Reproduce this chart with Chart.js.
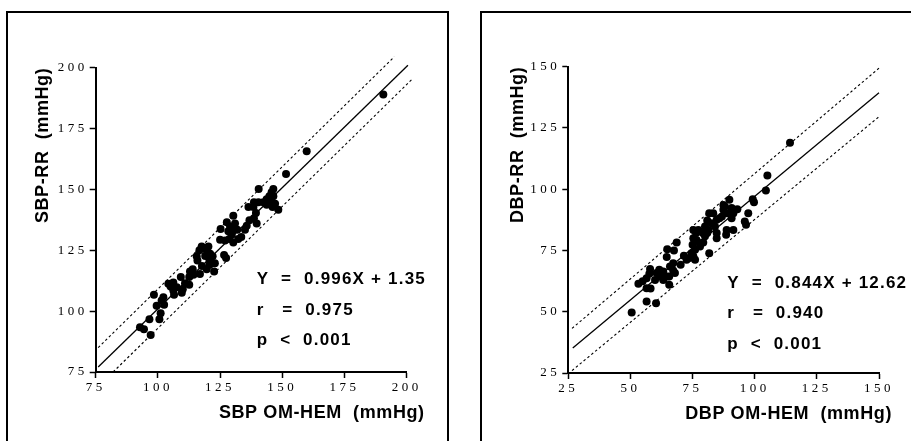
<!DOCTYPE html>
<html>
<head>
<meta charset="utf-8">
<script src="https://cdn.jsdelivr.net/npm/chart.js@4.4.1/dist/chart.umd.min.js"></script>
<style>
  body { margin: 0; background: #fff; width: 911px; height: 441px; overflow: hidden; position: relative; }
  .box { position: absolute; border: 2px solid #000; box-sizing: border-box; }
  canvas { position: absolute; top: 0; }
</style>
</head>
<body>
<div class="box" style="left:6px; top:11px; width:443px; height:460px;"></div>
<div class="box" style="left:480px; top:11px; width:460px; height:460px;"></div>
<canvas id="sbp" width="460" height="441" style="left:0; width:460px; height:441px;"></canvas>
<canvas id="dbp" width="451" height="441" style="left:460px; width:451px; height:441px;"></canvas>
<script>
// SBP panel data (OM-HEM vs RR, mmHg)
var sbpX = [190.6, 159.8, 151.5, 140.5, 146.4, 145.7, 144.8, 143.7, 146.4, 145.4,
            147.1, 148.4, 143.7, 142.4, 140.4, 138.6, 136.4, 138.4, 146.1, 139.4,
            138.6, 139.7, 135.7, 135.0, 130.3, 127.7, 129.0, 131.0, 130.3, 131.9,
            128.3, 129.7, 132.3, 130.3, 128.7, 125.2, 125.0, 126.6, 127.4, 122.6,
            120.3, 119.6, 121.0, 119.0, 120.7, 122.0, 117.6, 116.7, 119.6, 115.6,
            115.9, 116.9, 114.0, 112.9, 114.3, 112.6, 109.2, 110.9, 112.6, 107.6,
            106.2, 106.5, 109.6, 110.0, 104.2, 105.1, 106.2, 102.2, 101.5, 102.5,
            98.4, 99.5, 101.1, 100.6, 96.6, 92.8, 94.4, 97.1, 136.8, 122.9,
            117.7, 120.7, 133.5, 127.0];
var sbpY = [189.0, 165.7, 156.3, 150.2, 150.2, 148.8, 147.2, 146.0, 147.2, 145.1,
            144.1, 141.7, 143.7, 144.7, 144.7, 144.7, 142.8, 142.8, 142.8, 140.3,
            138.2, 136.0, 135.1, 133.4, 139.2, 136.5, 134.8, 136.0, 133.4, 133.4,
            132.8, 131.4, 129.6, 128.2, 129.6, 133.7, 129.3, 123.1, 121.8, 116.3,
            126.6, 125.0, 123.6, 122.7, 121.1, 122.5, 126.6, 125.0, 117.2, 122.5,
            120.8, 115.3, 117.2, 116.3, 114.9, 114.0, 114.0, 111.5, 110.8, 109.8,
            108.5, 106.7, 107.6, 109.0, 111.2, 110.1, 111.8, 105.7, 104.4, 102.6,
            106.7, 102.2, 99.1, 96.7, 96.7, 93.4, 92.6, 90.2, 137.3, 119.7,
            118.5, 119.0, 130.5, 129.0];
var sbpFitX = [76, 200.5];
var sbpFitY = [77.05, 201.0];
var sbpUpperX = [76, 195];
var sbpUpperY = [85, 204.5];
var sbpLowerX = [82, 202.5];
var sbpLowerY = [75, 195.6];

// DBP panel data
var dbpX = [114.2, 105.1, 104.5, 99.2, 99.7, 97.4, 96.0, 96.5, 93.0, 89.8,
            90.7, 91.4, 90.7, 91.4, 88.7, 88.5, 87.4, 86.8, 88.7, 85.8,
            88.0, 87.4, 81.7, 80.9, 82.6, 84.0, 84.7, 84.7, 80.0, 79.1,
            81.4, 80.9, 77.3, 76.4, 76.6, 75.3, 78.0, 79.3, 75.0, 76.0,
            74.6, 73.7, 72.6, 75.3, 81.7, 75.3, 68.6, 67.5, 64.8, 64.6,
            70.2, 67.2, 65.9, 67.2, 67.9, 64.6, 63.2, 61.6, 60.5, 61.9,
            59.9, 57.9, 57.6, 56.5, 54.9, 53.2, 56.5, 58.1, 65.6, 56.5,
            60.3, 50.5, 65.6, 63.2, 71.5, 83.3, 84.7, 80.0, 78.0, 76.0];
var dbpY = [119.0, 105.6, 99.5, 95.9, 94.7, 90.2, 86.8, 85.5, 91.8, 95.7,
            92.3, 90.2, 88.2, 83.4, 83.4, 81.4, 91.6, 88.9, 90.2, 88.2,
            92.9, 93.6, 90.2, 87.2, 86.1, 84.8, 82.1, 80.0, 84.8, 82.1,
            83.4, 82.1, 83.4, 82.1, 79.3, 80.0, 78.0, 78.3, 77.3, 75.3,
            73.9, 71.9, 71.2, 72.6, 73.9, 83.4, 78.3, 75.0, 75.5, 72.3,
            69.2, 69.8, 68.5, 66.8, 65.8, 64.4, 66.4, 67.1, 65.8, 64.4,
            63.0, 67.4, 65.5, 63.7, 62.4, 61.4, 59.6, 59.5, 61.0, 54.2,
            53.5, 49.7, 64.4, 63.0, 72.9, 90.2, 87.5, 80.8, 76.6, 71.2];
var dbpFitX = [26.8, 150];
var dbpFitY = [35.2, 139.4];
var dbpUpperX = [26.5, 150];
var dbpUpperY = [43.2, 149.4];
var dbpLowerX = [26.5, 150];
var dbpLowerY = [26.0, 129.6];

var sbpTicks = [75, 200];
var dbpTicks = [25, 150];
var sbpTitles = ['SBP OM-HEM  (mmHg)', 'SBP-RR  (mmHg)'];
var dbpTitles = ['DBP OM-HEM  (mmHg)', 'DBP-RR  (mmHg)'];
var sbpStats = ['Y  =  0.996X + 1.35', 'r   =  0.975', 'p  <  0.001'];
var dbpStats = ['Y  =  0.844X + 12.62', 'r   =  0.940', 'p  <  0.001'];

function pts(xs, ys) {
  var out = [];
  for (var i = 0; i < xs.length; i++) out.push({x: xs[i], y: ys[i]});
  return out;
}

function lineSet(xs, ys, dash, w) {
  return {
    type: 'line', data: pts(xs, ys), borderColor: '#000', borderWidth: w,
    borderDash: dash, pointRadius: 0, fill: false, clip: false, order: 2
  };
}

// draws axis titles and the regression text
var textPlugin = {
  id: 'textLayer',
  beforeDraw: function(chart) { chart.ctx.letterSpacing = '3.5px'; },
  afterDraw: function(chart, args, opts) {
    var ctx = chart.ctx, a = chart.chartArea;
    ctx.save();
    ctx.letterSpacing = '0.6px';
    ctx.fillStyle = '#000';
    ctx.font = 'bold 18px "Liberation Sans", Arial, sans-serif';
    ctx.textBaseline = 'middle';
    ctx.textAlign = 'right';
    ctx.fillText(opts.titles[0], a.right + opts.xTitleDx, a.bottom + 41);
    ctx.save();
    ctx.translate(opts.yTitleX, a.top);
    ctx.rotate(-Math.PI / 2);
    ctx.textAlign = 'right';
    ctx.fillText(opts.titles[1], 0, 0);
    ctx.restore();
    ctx.letterSpacing = '1.2px';
    ctx.textAlign = 'left';
    ctx.font = 'bold 17px "Liberation Sans", Arial, sans-serif';
    for (var i = 0; i < opts.stats.length; i++) {
      ctx.fillText(opts.stats[i], a.left + opts.statDx, opts.statY[i]);
    }
    ctx.restore();
  }
};

function makeChart(id, xs, ys, fit, up, lo, range, sizes, text) {
  var tickFont = {family: '"Liberation Serif", "Times New Roman", serif', size: 13};
  function axis(extra) {
    return Object.assign({
      type: 'linear', min: range[0], max: range[1],
      ticks: {stepSize: 25, color: '#000', font: tickFont, maxRotation: 0, autoSkip: false, padding: 2},
      grid: {drawOnChartArea: false, color: '#000', tickLength: 6, tickWidth: 1.5},
      border: {color: '#000', width: 2}
    }, extra);
  }
  return new Chart(document.getElementById(id), {
    type: 'scatter',
    data: {
      datasets: [
        {data: pts(xs, ys), backgroundColor: '#000', borderWidth: 0, pointRadius: 4, order: 1},
        lineSet(fit[0], fit[1], [], 1.3),
        lineSet(up[0], up[1], [2.5, 2.5], 1.1),
        lineSet(lo[0], lo[1], [2.5, 2.5], 1.1)
      ]
    },
    options: {
      responsive: false,
      animation: false,
      layout: {padding: sizes.padding},
      plugins: {legend: {display: false}, tooltip: {enabled: false}, textLayer: text},
      scales: {
        x: axis({afterFit: function(s) { s.height = sizes.xh; }}),
        y: axis({afterFit: function(s) { s.width = sizes.yw; }})
      }
    },
    plugins: [textPlugin]
  });
}

makeChart('sbp', sbpX, sbpY, [sbpFitX, sbpFitY], [sbpUpperX, sbpUpperY], [sbpLowerX, sbpLowerY], sbpTicks,
  {padding: {left: 20, top: 67.7, right: 53.3, bottom: 10}, xh: 59, yw: 75.7},
  {titles: sbpTitles, stats: sbpStats, xTitleDx: 18, yTitleX: 43, statDx: 161, statY: [279, 310, 340]});

makeChart('dbp', dbpX, dbpY, [dbpFitX, dbpFitY], [dbpUpperX, dbpUpperY], [dbpLowerX, dbpLowerY], dbpTicks,
  {padding: {left: 32, top: 66.7, right: 32, bottom: 10}, xh: 58, yw: 76.3},
  {titles: dbpTitles, stats: dbpStats, xTitleDx: 13, yTitleX: 58, statDx: 159, statY: [283, 313, 344]});
</script>
</body>
</html>
